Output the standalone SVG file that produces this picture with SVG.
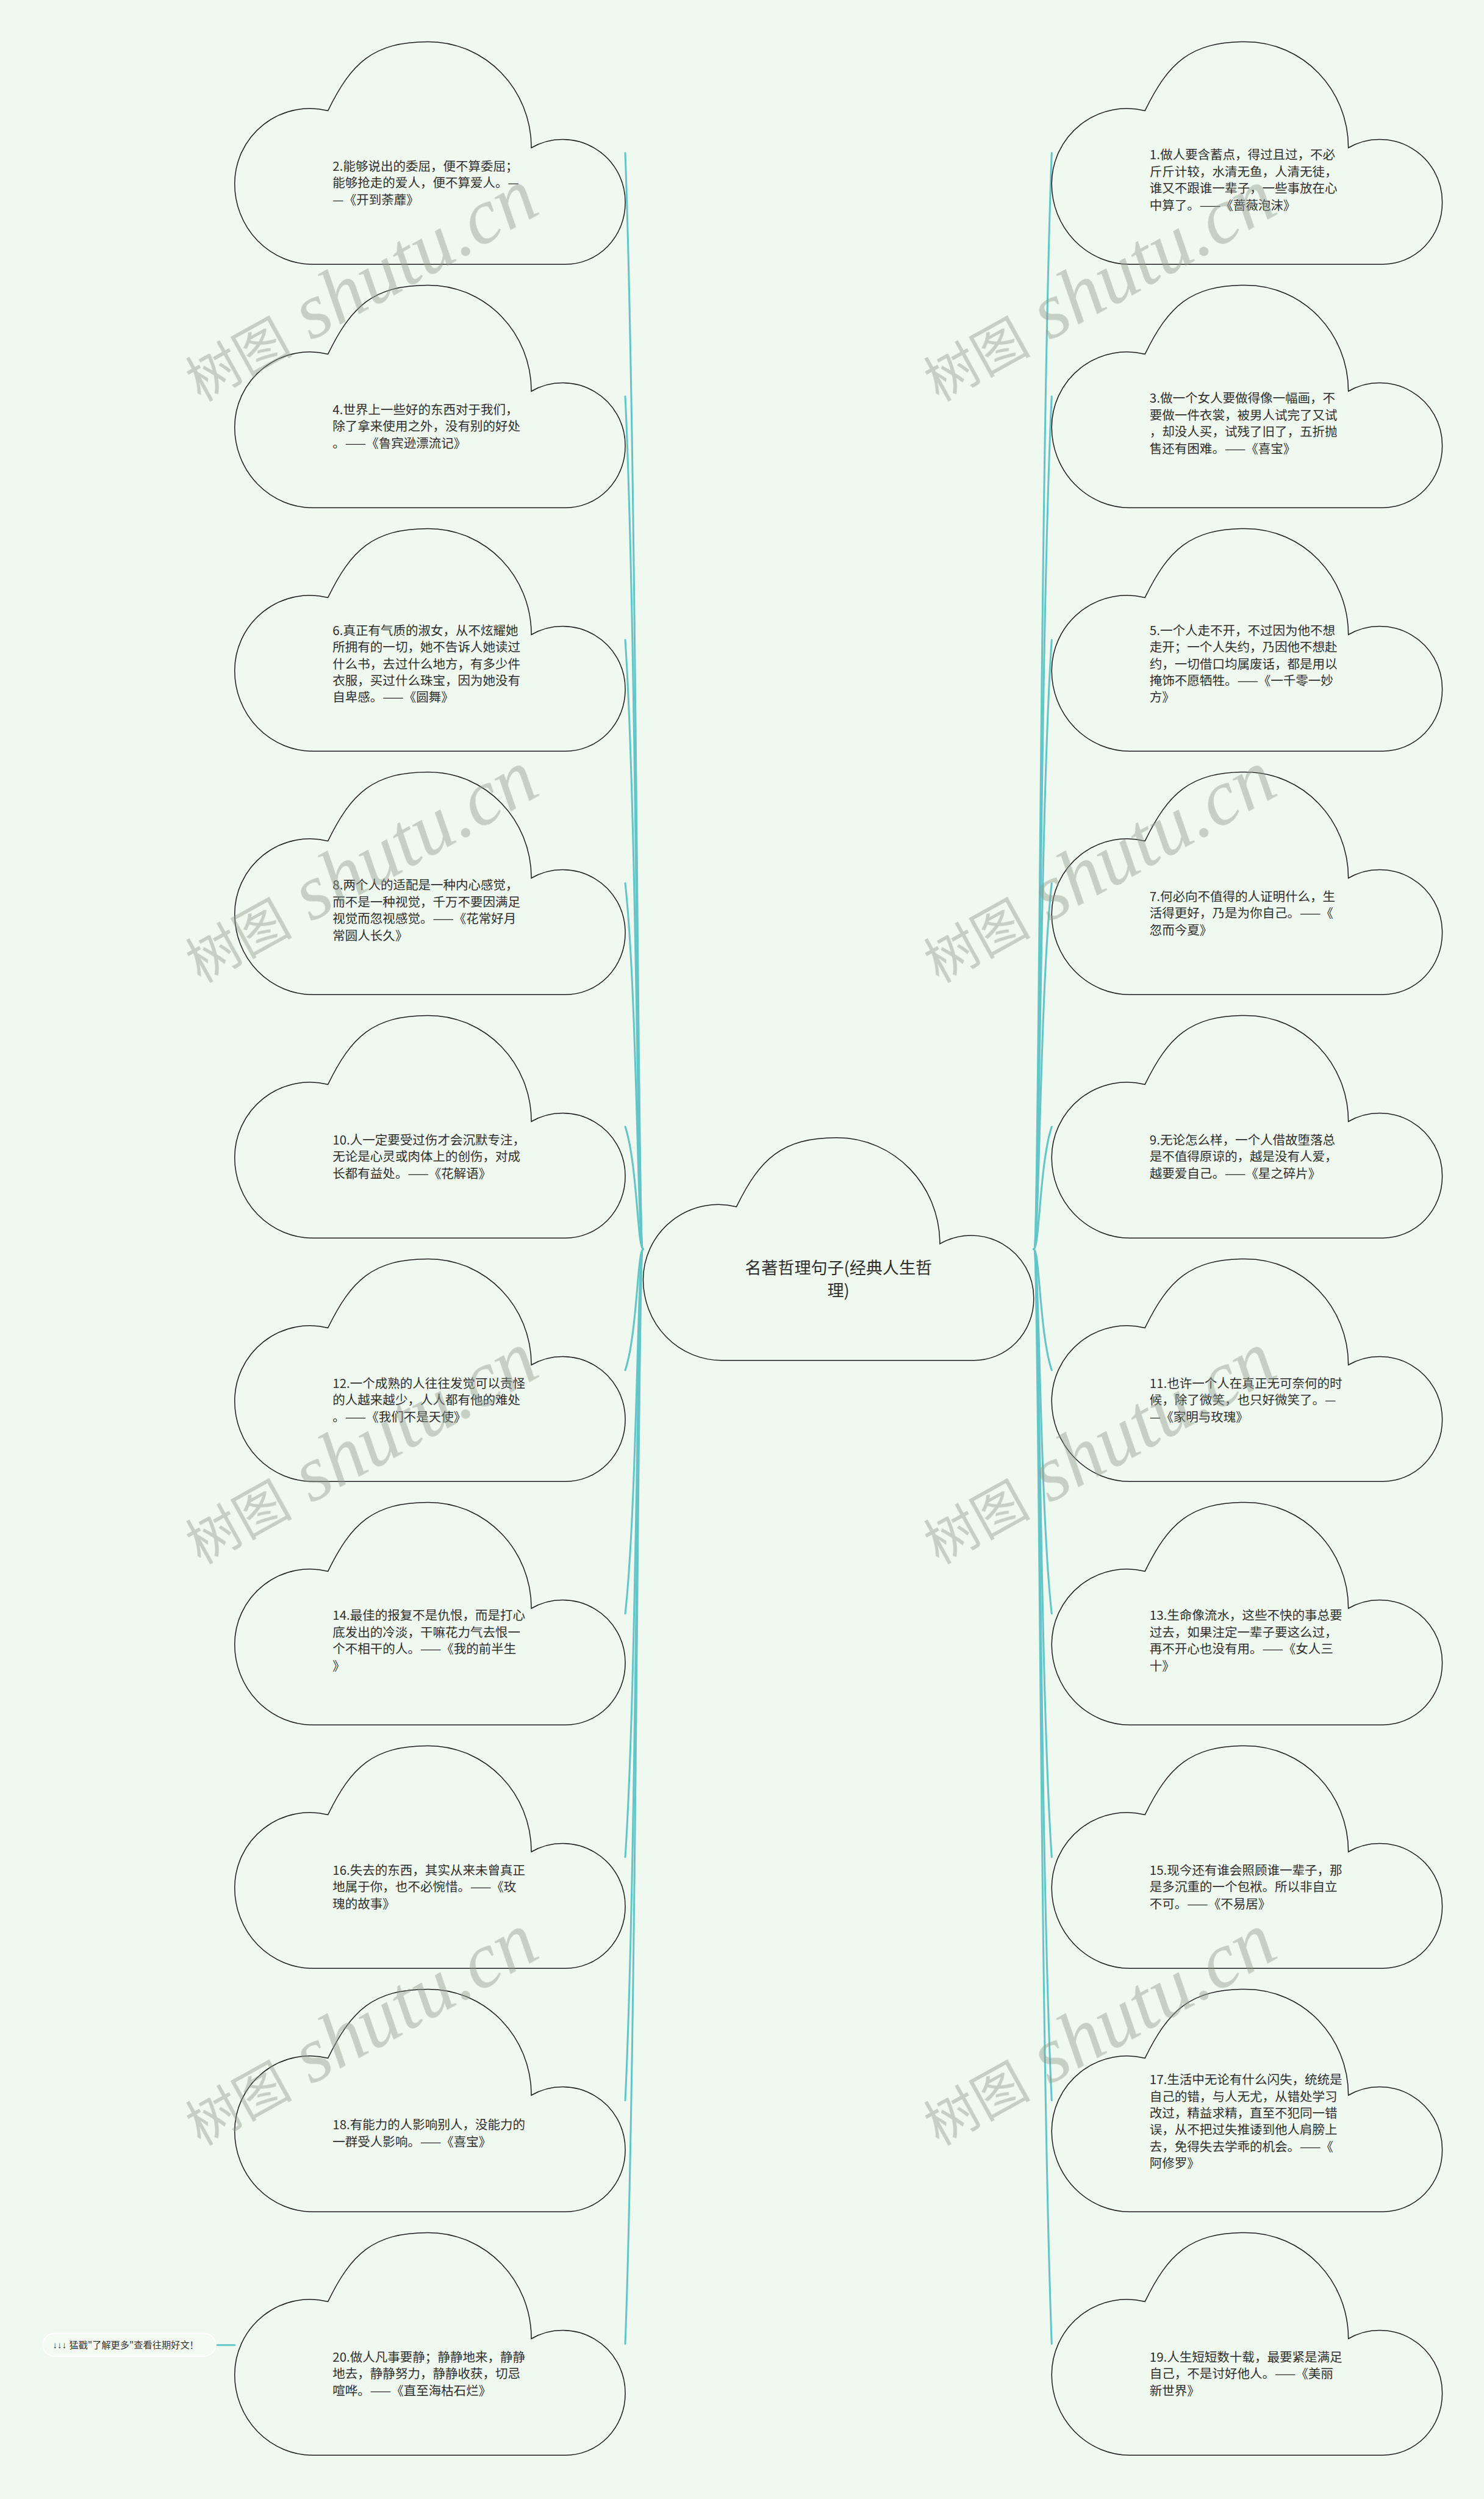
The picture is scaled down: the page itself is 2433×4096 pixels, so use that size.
<svg xmlns="http://www.w3.org/2000/svg" xmlns:xlink="http://www.w3.org/1999/xlink" width="2433" height="4096" viewBox="0 0 2433 4096">
<style>
.cl{fill:#f0f9ef;stroke:#1e1e1e;stroke-width:1.6}
.t{font-family:"Noto Sans CJK SC","Noto Sans",sans-serif;font-size:21.6px;fill:#2e2e2e}
.tc{font-family:"Noto Sans CJK SC","Noto Sans",sans-serif;font-size:28.5px;fill:#2e2e2e;text-anchor:middle}
.cn{fill:none;stroke:#63c5c8;stroke-width:3.2;stroke-linecap:round}
.wm{fill:#8f9a8f;opacity:0.45}
.wc{font-family:"Noto Sans CJK SC",sans-serif;font-size:92px}
.wl{font-family:"Liberation Serif",serif;font-style:italic;font-size:136px}
</style>
<defs>
<path id="cloud" class="cl" d="M135,384 A135,139 0 0 1 0,245 A130,130 0 0 1 161,119 C201,37 239,0 334,0 C434,0 512,83 512,183 A108,108 0 0 1 674,278 A103,106 0 0 1 571,384 Z"/>
</defs>
<rect x="0" y="0" width="2433" height="4096" fill="#f0f9ef"/>
<g transform="scale(0.95)">
<g id="connectors">
<path class="cn" d="M1079 264 C1100 831.3 1100 2155 1110 2155"/>
<path class="cn" d="M1079 684 C1100 1125.3 1100 2155 1110 2155"/>
<path class="cn" d="M1079 1104 C1100 1419.3 1100 2155 1110 2155"/>
<path class="cn" d="M1079 1524 C1100 1713.3 1100 2155 1110 2155"/>
<path class="cn" d="M1079 1944 C1100 2007.3 1100 2155 1110 2155"/>
<path class="cn" d="M1079 2364 C1100 2301.3 1100 2155 1110 2155"/>
<path class="cn" d="M1079 2784 C1100 2595.3 1100 2155 1110 2155"/>
<path class="cn" d="M1079 3204 C1100 2889.3 1100 2155 1110 2155"/>
<path class="cn" d="M1079 3624 C1100 3183.3 1100 2155 1110 2155"/>
<path class="cn" d="M1079 4044 C1100 3477.3 1100 2155 1110 2155"/>
<path class="cn" d="M1815 264 C1794 831.3 1794 2155 1784 2155"/>
<path class="cn" d="M1815 684 C1794 1125.3 1794 2155 1784 2155"/>
<path class="cn" d="M1815 1104 C1794 1419.3 1794 2155 1784 2155"/>
<path class="cn" d="M1815 1524 C1794 1713.3 1794 2155 1784 2155"/>
<path class="cn" d="M1815 1944 C1794 2007.3 1794 2155 1784 2155"/>
<path class="cn" d="M1815 2364 C1794 2301.3 1794 2155 1784 2155"/>
<path class="cn" d="M1815 2784 C1794 2595.3 1794 2155 1784 2155"/>
<path class="cn" d="M1815 3204 C1794 2889.3 1794 2155 1784 2155"/>
<path class="cn" d="M1815 3624 C1794 3183.3 1794 2155 1784 2155"/>
<path class="cn" d="M1815 4044 C1794 3477.3 1794 2155 1784 2155"/>
<path class="cn" d="M375 4046 H405"/>
</g>
<g id="center">
<use xlink:href="#cloud" href="#cloud" x="1110" y="1963"/>
<text class="tc"><tspan x="1447" y="2198.3">名著哲理句子(经典人生哲</tspan><tspan x="1447" y="2236.6">理)</tspan></text>
</g>
<g id="n2">
<use xlink:href="#cloud" href="#cloud" x="405" y="72"/>
<text class="t"><tspan x="574" y="294.7">2.能够说出的委屈，便不算委屈；</tspan><tspan x="574" y="323.5">能够抢走的爱人，便不算爱人。—</tspan><tspan x="574" y="352.3">—《开到荼蘼》</tspan></text>
</g>
<g id="n4">
<use xlink:href="#cloud" href="#cloud" x="405" y="492"/>
<text class="t"><tspan x="574" y="714.7">4.世界上一些好的东西对于我们，</tspan><tspan x="574" y="743.5">除了拿来使用之外，没有别的好处</tspan><tspan x="574" y="772.3">。——《鲁宾逊漂流记》</tspan></text>
</g>
<g id="n6">
<use xlink:href="#cloud" href="#cloud" x="405" y="912"/>
<text class="t"><tspan x="574" y="1095.7">6.真正有气质的淑女，从不炫耀她</tspan><tspan x="574" y="1124.5">所拥有的一切，她不告诉人她读过</tspan><tspan x="574" y="1153.3">什么书，去过什么地方，有多少件</tspan><tspan x="574" y="1182.1">衣服，买过什么珠宝，因为她没有</tspan><tspan x="574" y="1210.9">自卑感。——《圆舞》</tspan></text>
</g>
<g id="n8">
<use xlink:href="#cloud" href="#cloud" x="405" y="1332"/>
<text class="t"><tspan x="574" y="1535.2">8.两个人的适配是一种内心感觉，</tspan><tspan x="574" y="1564">而不是一种视觉，千万不要因满足</tspan><tspan x="574" y="1592.8">视觉而忽视感觉。——《花常好月</tspan><tspan x="574" y="1621.6">常圆人长久》</tspan></text>
</g>
<g id="n10">
<use xlink:href="#cloud" href="#cloud" x="405" y="1752"/>
<text class="t"><tspan x="574" y="1974.7">10.人一定要受过伤才会沉默专注，</tspan><tspan x="574" y="2003.5">无论是心灵或肉体上的创伤，对成</tspan><tspan x="574" y="2032.3">长都有益处。——《花解语》</tspan></text>
</g>
<g id="n12">
<use xlink:href="#cloud" href="#cloud" x="405" y="2172"/>
<text class="t"><tspan x="574" y="2394.7">12.一个成熟的人往往发觉可以责怪</tspan><tspan x="574" y="2423.5">的人越来越少，人人都有他的难处</tspan><tspan x="574" y="2452.3">。——《我们不是天使》</tspan></text>
</g>
<g id="n14">
<use xlink:href="#cloud" href="#cloud" x="405" y="2592"/>
<text class="t"><tspan x="574" y="2795.2">14.最佳的报复不是仇恨，而是打心</tspan><tspan x="574" y="2824">底发出的冷淡，干嘛花力气去恨一</tspan><tspan x="574" y="2852.8">个不相干的人。——《我的前半生</tspan><tspan x="574" y="2881.6">》</tspan></text>
</g>
<g id="n16">
<use xlink:href="#cloud" href="#cloud" x="405" y="3012"/>
<text class="t"><tspan x="574" y="3234.7">16.失去的东西，其实从来未曾真正</tspan><tspan x="574" y="3263.5">地属于你，也不必惋惜。——《玫</tspan><tspan x="574" y="3292.3">瑰的故事》</tspan></text>
</g>
<g id="n18">
<use xlink:href="#cloud" href="#cloud" x="405" y="3432"/>
<text class="t"><tspan x="574" y="3674.2">18.有能力的人影响别人，没能力的</tspan><tspan x="574" y="3703">一群受人影响。——《喜宝》</tspan></text>
</g>
<g id="n20">
<use xlink:href="#cloud" href="#cloud" x="405" y="3852"/>
<text class="t"><tspan x="574" y="4074.7">20.做人凡事要静；静静地来，静静</tspan><tspan x="574" y="4103.5">地去，静静努力，静静收获，切忌</tspan><tspan x="574" y="4132.3">喧哗。——《直至海枯石烂》</tspan></text>
</g>
<g id="n1">
<use xlink:href="#cloud" href="#cloud" x="1815" y="72"/>
<text class="t"><tspan x="1984" y="275.2">1.做人要含蓄点，得过且过，不必</tspan><tspan x="1984" y="304">斤斤计较，水清无鱼，人清无徒，</tspan><tspan x="1984" y="332.8">谁又不跟谁一辈子，一些事放在心</tspan><tspan x="1984" y="361.6">中算了。——《蔷薇泡沫》</tspan></text>
</g>
<g id="n3">
<use xlink:href="#cloud" href="#cloud" x="1815" y="492"/>
<text class="t"><tspan x="1984" y="695.2">3.做一个女人要做得像一幅画，不</tspan><tspan x="1984" y="724">要做一件衣裳，被男人试完了又试</tspan><tspan x="1984" y="752.8">，却没人买，试残了旧了，五折抛</tspan><tspan x="1984" y="781.6">售还有困难。——《喜宝》</tspan></text>
</g>
<g id="n5">
<use xlink:href="#cloud" href="#cloud" x="1815" y="912"/>
<text class="t"><tspan x="1984" y="1095.7">5.一个人走不开，不过因为他不想</tspan><tspan x="1984" y="1124.5">走开；一个人失约，乃因他不想赴</tspan><tspan x="1984" y="1153.3">约，一切借口均属废话，都是用以</tspan><tspan x="1984" y="1182.1">掩饰不愿牺牲。——《一千零一妙</tspan><tspan x="1984" y="1210.9">方》</tspan></text>
</g>
<g id="n7">
<use xlink:href="#cloud" href="#cloud" x="1815" y="1332"/>
<text class="t"><tspan x="1984" y="1554.7">7.何必向不值得的人证明什么，生</tspan><tspan x="1984" y="1583.5">活得更好，乃是为你自己。——《</tspan><tspan x="1984" y="1612.3">忽而今夏》</tspan></text>
</g>
<g id="n9">
<use xlink:href="#cloud" href="#cloud" x="1815" y="1752"/>
<text class="t"><tspan x="1984" y="1974.7">9.无论怎么样，一个人借故堕落总</tspan><tspan x="1984" y="2003.5">是不值得原谅的，越是没有人爱，</tspan><tspan x="1984" y="2032.3">越要爱自己。——《星之碎片》</tspan></text>
</g>
<g id="n11">
<use xlink:href="#cloud" href="#cloud" x="1815" y="2172"/>
<text class="t"><tspan x="1984" y="2394.7">11.也许一个人在真正无可奈何的时</tspan><tspan x="1984" y="2423.5">候，除了微笑，也只好微笑了。—</tspan><tspan x="1984" y="2452.3">—《家明与玫瑰》</tspan></text>
</g>
<g id="n13">
<use xlink:href="#cloud" href="#cloud" x="1815" y="2592"/>
<text class="t"><tspan x="1984" y="2795.2">13.生命像流水，这些不快的事总要</tspan><tspan x="1984" y="2824">过去，如果注定一辈子要这么过，</tspan><tspan x="1984" y="2852.8">再不开心也没有用。——《女人三</tspan><tspan x="1984" y="2881.6">十》</tspan></text>
</g>
<g id="n15">
<use xlink:href="#cloud" href="#cloud" x="1815" y="3012"/>
<text class="t"><tspan x="1984" y="3234.7">15.现今还有谁会照顾谁一辈子，那</tspan><tspan x="1984" y="3263.5">是多沉重的一个包袱。所以非自立</tspan><tspan x="1984" y="3292.3">不可。——《不易居》</tspan></text>
</g>
<g id="n17">
<use xlink:href="#cloud" href="#cloud" x="1815" y="3432"/>
<text class="t"><tspan x="1984" y="3596.2">17.生活中无论有什么闪失，统统是</tspan><tspan x="1984" y="3625">自己的错，与人无尤，从错处学习</tspan><tspan x="1984" y="3653.8">改过，精益求精，直至不犯同一错</tspan><tspan x="1984" y="3682.6">误，从不把过失推诿到他人肩膀上</tspan><tspan x="1984" y="3711.4">去，免得失去学乖的机会。——《</tspan><tspan x="1984" y="3740.2">阿修罗》</tspan></text>
</g>
<g id="n19">
<use xlink:href="#cloud" href="#cloud" x="1815" y="3852"/>
<text class="t"><tspan x="1984" y="4074.7">19.人生短短数十载，最要紧是满足</tspan><tspan x="1984" y="4103.5">自己，不是讨好他人。——《美丽</tspan><tspan x="1984" y="4132.3">新世界》</tspan></text>
</g>
<g id="note">
<rect x="74" y="4026" width="298" height="39" rx="19.5" fill="#f3fbf2" stroke="#ffffff" stroke-width="2"/>
<text x="91" y="4052" textLength="252" lengthAdjust="spacingAndGlyphs" font-family="Noto Sans CJK SC, Noto Sans, sans-serif" font-size="16" fill="#333"><tspan font-family="Liberation Sans, sans-serif">↓↓↓ </tspan>猛戳"了解更多"查看往期好文！</text>
</g>
<g id="watermarks" class="wm">
<text transform="translate(346,694) rotate(-29)"><tspan class="wc">树图</tspan><tspan class="wl"> shutu.cn</tspan></text>
<text transform="translate(346,1697) rotate(-29)"><tspan class="wc">树图</tspan><tspan class="wl"> shutu.cn</tspan></text>
<text transform="translate(346,2700) rotate(-29)"><tspan class="wc">树图</tspan><tspan class="wl"> shutu.cn</tspan></text>
<text transform="translate(346,3703) rotate(-29)"><tspan class="wc">树图</tspan><tspan class="wl"> shutu.cn</tspan></text>
<text transform="translate(1620,694) rotate(-29)"><tspan class="wc">树图</tspan><tspan class="wl"> shutu.cn</tspan></text>
<text transform="translate(1620,1697) rotate(-29)"><tspan class="wc">树图</tspan><tspan class="wl"> shutu.cn</tspan></text>
<text transform="translate(1620,2700) rotate(-29)"><tspan class="wc">树图</tspan><tspan class="wl"> shutu.cn</tspan></text>
<text transform="translate(1620,3703) rotate(-29)"><tspan class="wc">树图</tspan><tspan class="wl"> shutu.cn</tspan></text>
</g>
</g>
</svg>
